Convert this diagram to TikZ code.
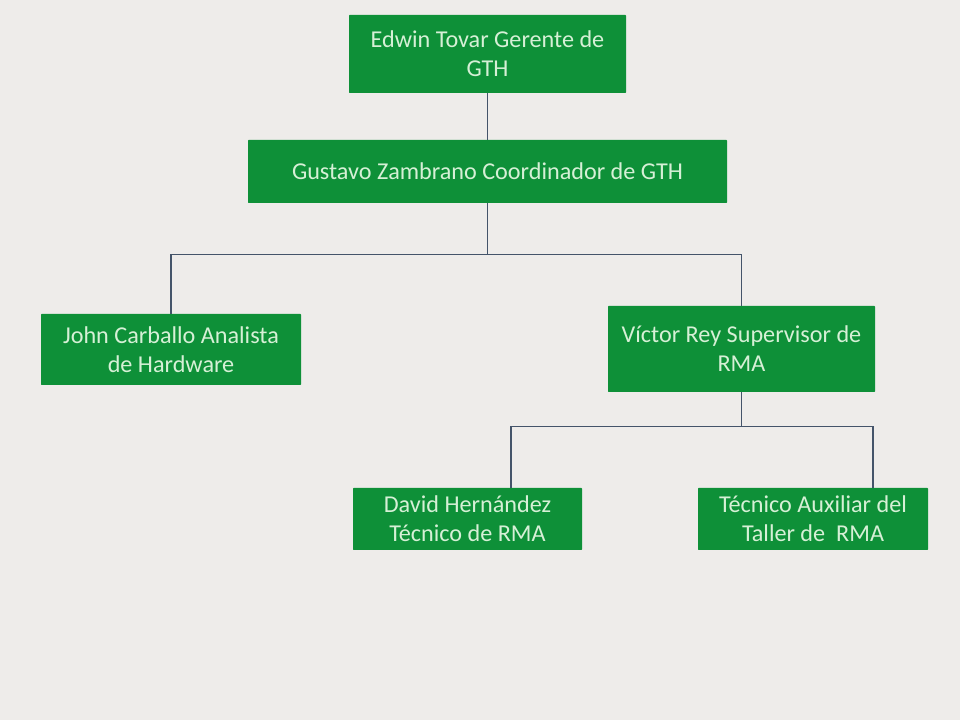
\documentclass[tikz,border=0pt]{standalone}
\usepackage{fontspec}
\setmainfont{Carlito}
\definecolor{boxgreen}{HTML}{0E9038}
\definecolor{boxtext}{HTML}{D6F0D6}
\definecolor{linkcol}{HTML}{44546A}
\definecolor{bgcol}{HTML}{EEECEA}
\newcommand{\pxu}{0.025cm}
\begin{document}
\begin{tikzpicture}[
        x=0.025cm, y=-0.025cm,
        person/.style={rectangle, fill=boxgreen, text=boxtext, align=center, inner sep=2pt,
            font=\fontsize{17.2}{20.6}\selectfont, rounded corners=0.5pt},
        link/.style={draw=linkcol, line width=0.8pt}
    ]
        % Background
        \fill[bgcol] (0,0) rectangle (960,720);
        \useasboundingbox (0,0) rectangle (960,720);

        % Nodes
        \node[person, minimum width=277*\pxu, minimum height=78*\pxu] (gerente) at (487.5,54) {Edwin Tovar Gerente de\\GTH};
        \node[person, minimum width=479*\pxu, minimum height=63*\pxu] (coord) at (487.5,171.5) {Gustavo Zambrano Coordinador de GTH};
        \node[person, minimum width=260*\pxu, minimum height=71*\pxu] (analista) at (171,349.5) {John Carballo Analista\\de Hardware};
        \node[person, minimum width=267*\pxu, minimum height=86*\pxu] (supervisor) at (741.5,349) {Víctor Rey Supervisor de\\RMA};
        \node[person, minimum width=229*\pxu, minimum height=62*\pxu] (tecnico) at (467.5,519) {David Hernández\\Técnico de RMA};
        \node[person, minimum width=230*\pxu, minimum height=62*\pxu] (auxiliar) at (813,519) {Técnico Auxiliar del\\Taller de~ RMA};

        % Connectors
        \draw[link] (gerente.south) -- (coord.north);
        \draw[link] (coord.south) -- ++(0,51) coordinate (bus1);
        \draw[link] (bus1) -| (analista.north);
        \draw[link] (bus1) -| (supervisor.north);
        \draw[link] (supervisor.south) -- ++(0,34) coordinate (bus2);
        \draw[link] (bus2) -| ([xshift=43.5*\pxu]tecnico.north);
        \draw[link] (bus2) -| ([xshift=60*\pxu]auxiliar.north);
    \end{tikzpicture}
\end{document}
